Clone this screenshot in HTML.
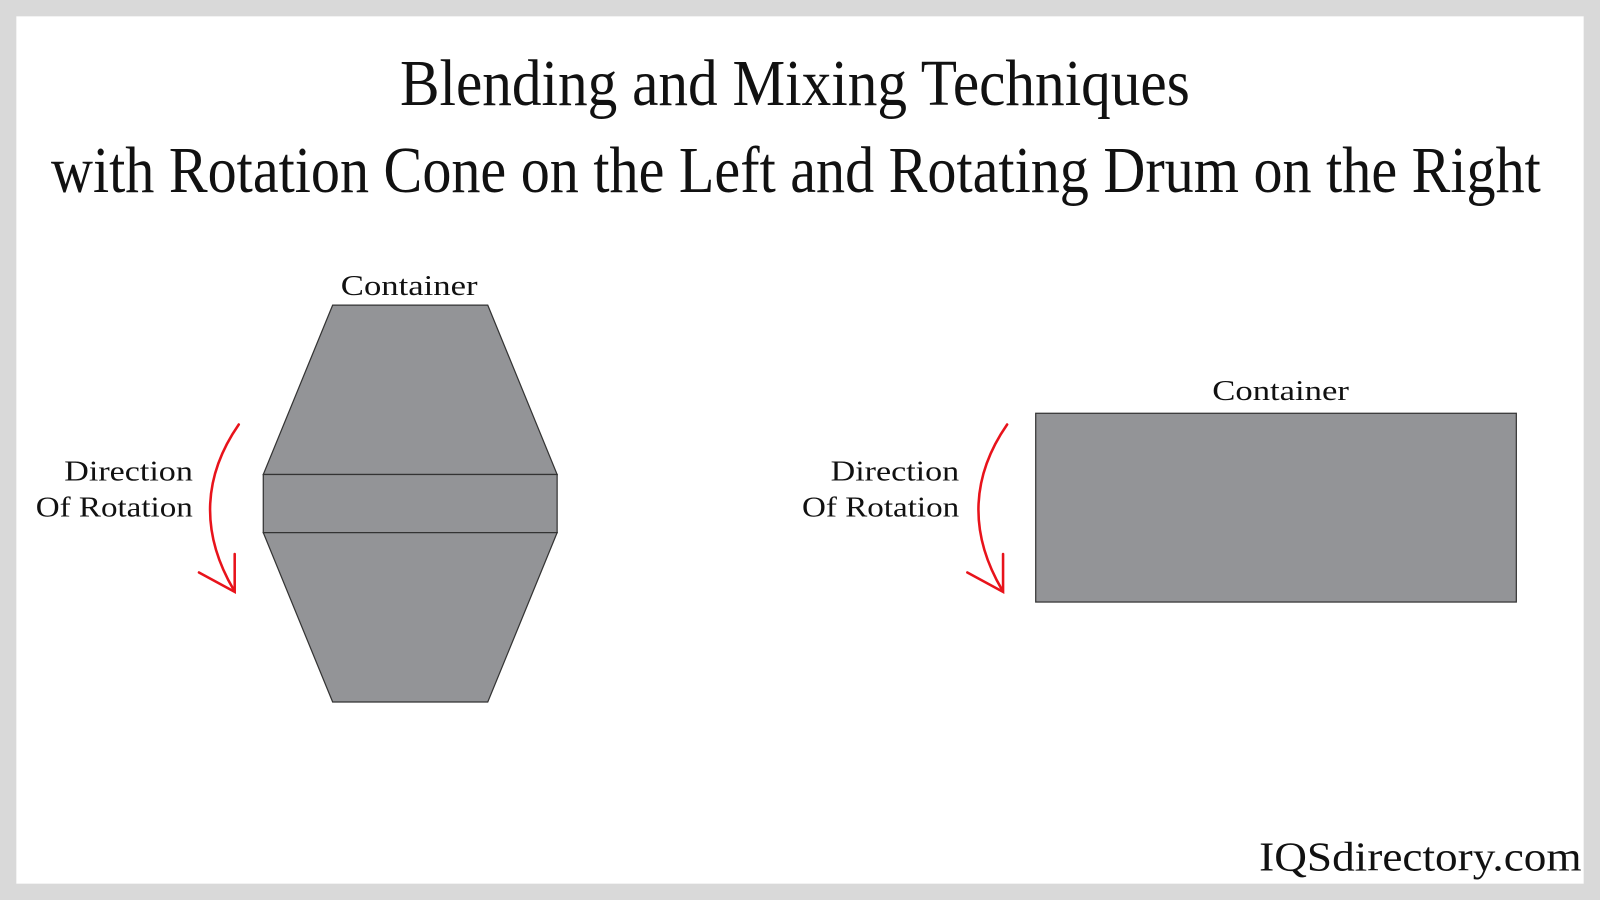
<!DOCTYPE html>
<html><head><meta charset="utf-8"><style>
html,body{margin:0;padding:0;background:#d9d9d9;}
svg{display:block;}
</style></head><body>
<svg width="1600" height="900" viewBox="0 0 1568 882" preserveAspectRatio="none" xmlns="http://www.w3.org/2000/svg">
<rect x="0" y="0" width="1568" height="882" fill="#d9d9d9"/>
<rect x="16" y="16" width="1536" height="850" fill="#ffffff"/>
<g font-family="'Liberation Serif', serif" fill="#111">
<text x="779" y="103" font-size="64" text-anchor="middle" textLength="774" lengthAdjust="spacingAndGlyphs">Blending and Mixing Techniques</text>
<text x="780" y="188" font-size="64" text-anchor="middle" textLength="1460" lengthAdjust="spacingAndGlyphs">with Rotation Cone on the Left and Rotating Drum on the Right</text>
<text x="401" y="289" font-size="28" text-anchor="middle" textLength="134" lengthAdjust="spacingAndGlyphs">Container</text>
<text x="1255" y="392" font-size="28" text-anchor="middle" textLength="134" lengthAdjust="spacingAndGlyphs">Container</text>
<text x="189" y="471" font-size="28" text-anchor="end" textLength="126" lengthAdjust="spacingAndGlyphs">Direction</text>
<text x="189" y="506" font-size="28" text-anchor="end" textLength="154" lengthAdjust="spacingAndGlyphs">Of Rotation</text>
<text x="940" y="471" font-size="28" text-anchor="end" textLength="126" lengthAdjust="spacingAndGlyphs">Direction</text>
<text x="940" y="506" font-size="28" text-anchor="end" textLength="154" lengthAdjust="spacingAndGlyphs">Of Rotation</text>
<text x="1550" y="853" font-size="40" text-anchor="end" textLength="316" lengthAdjust="spacingAndGlyphs">IQSdirectory.com</text>
</g>
<g fill="#939497" stroke="#333" stroke-width="1.2">
<polygon points="326,299 478,299 546,465 258,465"/>
<rect x="258" y="465" width="288" height="57"/>
<polygon points="258,522 546,522 478,688 326,688"/>
<rect x="1015" y="405" width="471" height="185"/>
</g>
<g fill="none" stroke="#e8131b" stroke-width="2.5" stroke-linecap="round">
<path d="M234,416 C200,465 195,520 229,578"/>
<path d="M195,561 L230,580 L230,543"/>
<path d="M987,416 C953,465 948,520 982,578"/>
<path d="M948,561 L983,580 L983,543"/>
</g>
</svg>
</body></html>
